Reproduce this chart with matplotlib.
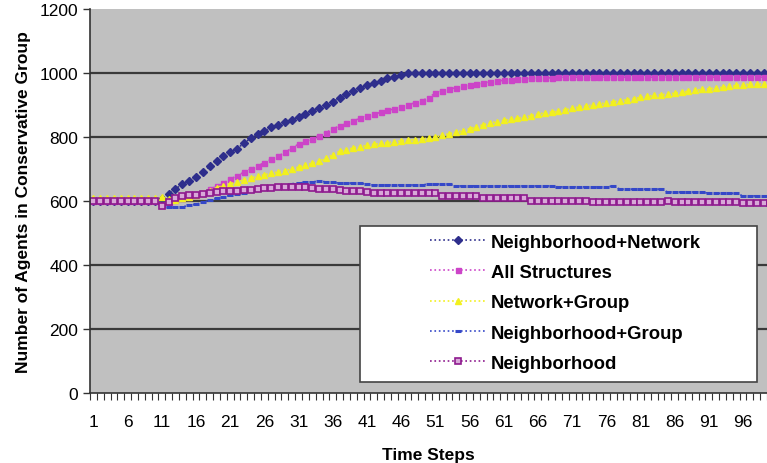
import numpy as np
import matplotlib.pyplot as plt
from matplotlib.patches import Rectangle

plt.rcParams['font.family'] = ['Liberation Sans', 'DejaVu Sans']

steps = np.arange(1, 101)
tick_steps = list(range(1, 100, 5))

neigh_network = [600] * 10 + [
    605, 622, 638, 652, 662, 676, 692, 708, 726, 742,
    752, 764, 780, 796, 808, 818, 830, 838, 846, 854,
    862, 872, 882, 892, 900, 910, 922, 934, 943, 953,
    961, 968, 976, 983, 989, 995] + [1000] * 54

all_structures = [600] * 10 + [
    588, 596, 603, 608, 612, 618, 626, 636, 646, 656,
    668, 679, 690, 700, 710, 720, 730, 740, 752, 765,
    778, 786, 795, 803, 814, 825, 835, 844, 851, 858,
    865, 871, 877, 883, 888, 894, 900, 907, 914, 922,
    938, 944, 949, 954, 958, 962, 966, 969, 972, 975,
    977, 979, 981, 982, 983, 984, 985, 985, 986] + [987] * 31

network_group = [610] * 10 + [
    612, 606, 604, 608, 612, 618, 624, 632, 642, 648,
    654, 660, 666, 672, 677, 682, 687, 691, 695, 700,
    706, 712, 718, 724, 733, 745, 755, 760, 766, 770,
    774, 777, 780, 782, 785, 788, 790, 792, 794, 797,
    800, 805, 810, 815, 820, 826, 832, 838, 844, 848,
    852, 855, 858, 862, 867, 872, 875, 878, 881, 885,
    890, 894, 897, 900, 903, 907, 910, 913, 917, 920,
    924, 927, 930, 932, 934, 937, 940, 943, 946, 949,
    951, 953, 955, 958, 961, 964, 965, 965, 966, 966]

neigh_group = [600] * 10 + [
    584, 580, 580, 582, 586, 590, 596, 602, 608, 613,
    618, 622, 626, 630, 634, 638, 642, 646, 650, 654,
    656, 658, 660, 662, 660, 658, 656, 656, 656, 656,
    652] + [650] * 8 + [653] * 4 + [647] * 15 + [644] * 8 + [647] \
    + [637] * 7 + [628] * 6 + [624] * 5 + [616] * 5

neighborhood = [600] * 10 + [
    584, 598, 610, 615, 618, 620, 622, 625, 628, 630,
    631, 632, 633, 635, 636, 640, 642, 644, 645, 645,
    644, 643, 641, 638, 637, 636, 634, 632, 631, 630,
    629] + [625] * 10 + [616] * 6 + [609] * 7 + [601] * 9 + [597] * 11 \
    + [600] + [597] * 10 + [594] * 5

series = [
    ("Neighborhood+Network", neigh_network, "#2E2E8C", "D", 3.6, "#2E2E8C", 1.0),
    ("All Structures", all_structures, "#CC44C8", "s", 3.6, "#CC44C8", 1.0),
    ("Network+Group", network_group, "#F2F01E", "^", 4.2, "#F2F01E", 1.0),
    ("Neighborhood+Group", neigh_group, "#3548C8", "_", 5.0, "#3548C8", 2.2),
    ("Neighborhood", neighborhood, "#8E1A8E", "s", 3.8, "#D8A8D8", 1.2),
]

fig = plt.figure(figsize=(7.67, 4.64), dpi=100)
ax = fig.add_axes([90 / 767, 70 / 464, 677 / 767, 384 / 464])
ax.set_facecolor("#C0C0C0")

handles = []
for name, vals, col, mk, ms, face, mew in series:
    h, = ax.plot(steps, vals, linestyle=":", color=col, lw=1.2, marker=mk,
                 markersize=ms, markerfacecolor=face, markeredgecolor=col,
                 markeredgewidth=mew, label=name)
    handles.append(h)

ax.set_xlim(0.5, 99.2)
ax.set_ylim(0, 1200)
ax.set_yticks(range(0, 1201, 200))
ax.set_xticks(tick_steps)
ax.set_xticklabels([str(s) for s in tick_steps])
ax.set_xticks(np.arange(0.5, 100, 1), minor=True)
ax.tick_params(axis="x", which="major", length=0, pad=15, labelsize=12.5)
ax.tick_params(axis="x", which="minor", length=5, width=0.8, color="#333333")
ax.tick_params(axis="y", length=5, width=1, color="#333333", labelsize=12.5)

for v in range(200, 1001, 200):
    ax.axhline(v, color="#3A3A3A", lw=1.6, zorder=1)

for side in ["top", "right"]:
    ax.spines[side].set_visible(False)
ax.spines["left"].set_color("#333333")
ax.spines["left"].set_linewidth(1.2)
ax.spines["bottom"].set_color("#333333")
ax.spines["bottom"].set_linewidth(1.2)

ax.set_xlabel("Time Steps", fontsize=12.5, fontweight="bold", labelpad=13)
ax.set_ylabel("Number of Agents in Conservative Group", fontsize=12.5,
              fontweight="bold", labelpad=6)

# legend box
ax.add_patch(Rectangle((0.399, 0.029), 0.586, 0.406, transform=ax.transAxes,
                       facecolor="white", edgecolor="#444444", lw=1.2, zorder=5))
leg = ax.legend(handles=handles, loc="upper left", bbox_to_anchor=(0.502, 0.415),
                frameon=False, fontsize=13.3, handlelength=3.0, labelspacing=0.72,
                handletextpad=0.3, borderpad=0.0, borderaxespad=0.0)
for t in leg.get_texts():
    t.set_fontweight("bold")
leg.set_zorder(6)

fig.savefig("out.png", dpi=100)
